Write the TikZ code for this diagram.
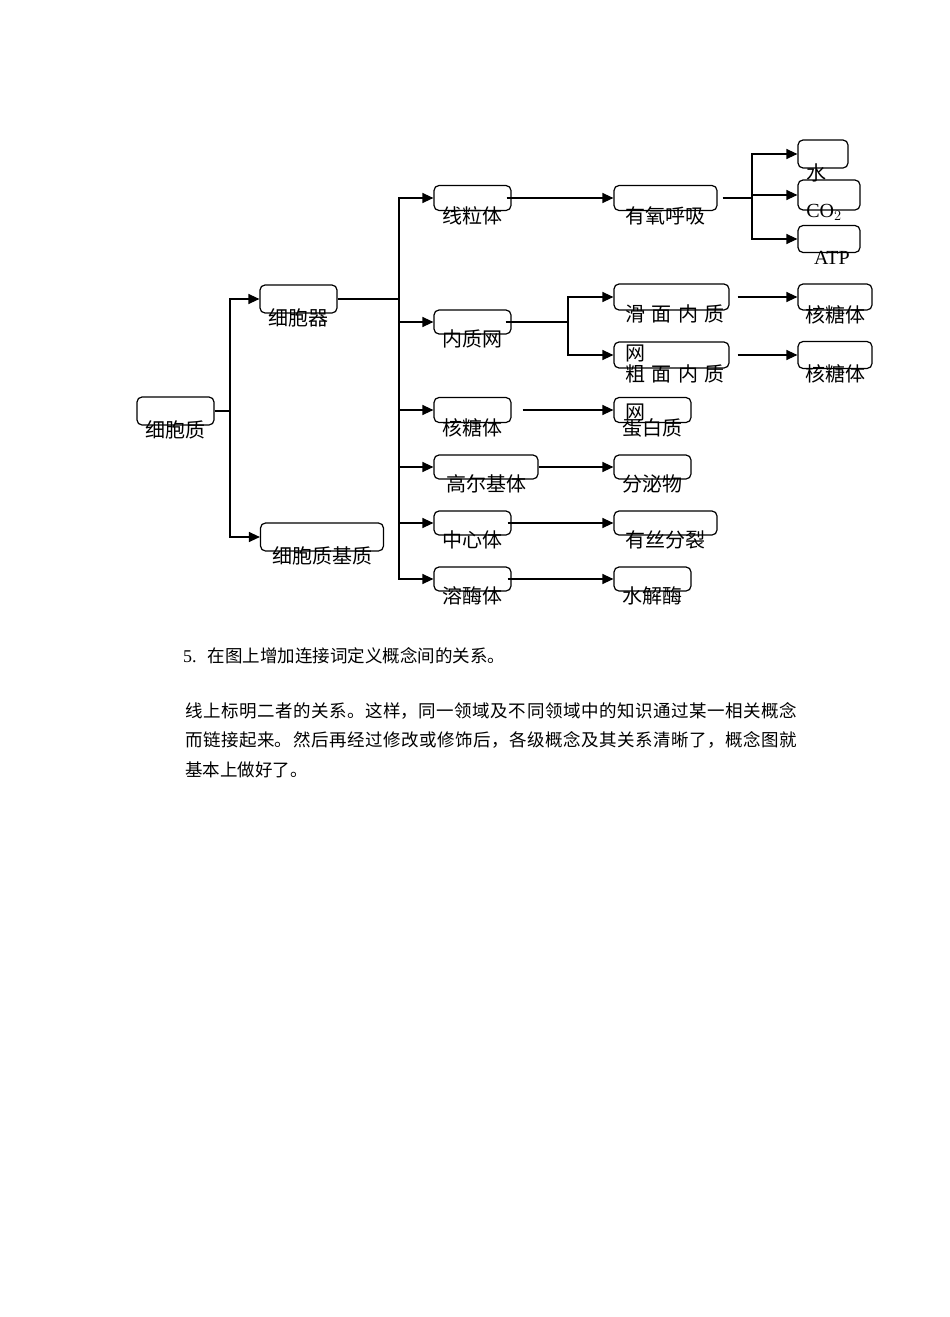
\documentclass[tikz,border=0pt]{standalone}
\usepackage{fontspec}
\setmainfont{Liberation Serif}
\newfontfamily\cjk{Noto Sans CJK SC}
\usetikzlibrary{arrows.meta}
\XeTeXlinebreaklocale "zh"
\XeTeXlinebreakskip=0pt plus 2pt

\tikzset{
  concept/.style={draw, rounded corners=5pt, line width=1.2pt, inner sep=0pt},
  txt/.style={font=\cjk\fontsize{20}{24}\selectfont, inner sep=0pt, anchor=base},
  lat/.style={font=\fontsize{20}{24}\selectfont, inner sep=0pt, anchor=base},
  arr/.style={line width=1.3pt, -{Triangle[length=11pt,width=10pt]}},
  ln/.style={line width=1.3pt},
  body/.style={font=\cjk\fontsize{17.5}{29.5}\selectfont, inner sep=0pt}
}

\begin{document}
\begin{tikzpicture}[x=1pt,y=-1pt]
\fill[white] (0,0) rectangle (950,1317);
\useasboundingbox (0,0) rectangle (950,1317);

% First column
\node[concept, minimum width=77pt, minimum height=28pt] (xbz) at (175.5,411) {};
\node[txt] (xbz-t) at ([yshift=-12pt]xbz.south) {细胞质};

% Second column
\node[concept, minimum width=77pt, minimum height=28pt] (xbq) at (298.5,299) {};
\node[txt] (xbq-t) at ([yshift=-12pt]xbq.south) {细胞器};
\node[concept, minimum width=123pt, minimum height=28pt] (jz) at (322,537) {};
\node[txt] (jz-t) at ([yshift=-12pt]jz.south) {细胞质基质};

% Organelles
\node[concept, minimum width=77pt, minimum height=25pt] (xlt) at (472.5,198) {};
\node[txt] (xlt-t) at ([yshift=-12pt]xlt.south) {线粒体};
\node[concept, minimum width=77pt, minimum height=24pt] (nzw) at (472.5,322) {};
\node[txt] (nzw-t) at ([yshift=-12pt]nzw.south) {内质网};
\node[concept, minimum width=77pt, minimum height=25pt] (htt) at (472.5,410) {};
\node[txt] (htt-t) at ([yshift=-12pt]htt.south) {核糖体};
\node[concept, minimum width=104pt, minimum height=24pt] (gej) at (486,467) {};
\node[txt] (gej-t) at ([yshift=-12pt]gej.south) {高尔基体};
\node[concept, minimum width=77pt, minimum height=24pt] (zxt) at (472.5,523) {};
\node[txt] (zxt-t) at ([yshift=-12pt]zxt.south) {中心体};
\node[concept, minimum width=77pt, minimum height=24pt] (rmt) at (472.5,579) {};
\node[txt] (rmt-t) at ([yshift=-12pt]rmt.south) {溶酶体};

% Third column
\node[concept, minimum width=103pt, minimum height=25pt] (yhx) at (665.5,198) {};
\node[txt] (yhx-t) at ([yshift=-12pt]yhx.south) {有氧呼吸};
\node[concept, minimum width=115pt, minimum height=26pt] (hm) at (671.5,297) {};
\node[txt, anchor=base west] (hm-t) at (625,321) {滑\hspace{6.5pt}面\hspace{6.5pt}内\hspace{6.5pt}质};
\node[txt, anchor=base west] (hm-t2) at (625,360) {网};
\node[concept, minimum width=115pt, minimum height=26pt] (cm) at (671.5,355) {};
\node[txt, anchor=base west] (cm-t) at (625,381) {粗\hspace{6.5pt}面\hspace{6.5pt}内\hspace{6.5pt}质};
\node[txt, anchor=base west] (cm-t2) at (625,419) {网};
\node[concept, minimum width=77pt, minimum height=25pt] (dbz) at (652.5,410) {};
\node[txt] (dbz-t) at ([yshift=-12pt]dbz.south) {蛋白质};
\node[concept, minimum width=77pt, minimum height=24pt] (fmw) at (652.5,467) {};
\node[txt] (fmw-t) at ([yshift=-12pt]fmw.south) {分泌物};
\node[concept, minimum width=103pt, minimum height=24pt] (ysf) at (665.5,523) {};
\node[txt] (ysf-t) at ([yshift=-12pt]ysf.south) {有丝分裂};
\node[concept, minimum width=77pt, minimum height=24pt] (sjm) at (652.5,579) {};
\node[txt] (sjm-t) at ([yshift=-12pt]sjm.south) {水解酶};

% Fourth column
\node[concept, minimum width=50pt, minimum height=28pt] (water) at (823,154) {};
\node[txt] (water-t) at ([xshift=-7pt,yshift=-12pt]water.south) {水};
\node[concept, minimum width=62pt, minimum height=30pt] (co2) at (829,195) {};
\node[lat] (co2-t) at ([xshift=-5pt,yshift=-7pt]co2.south) {CO$_2$};
\node[concept, minimum width=62pt, minimum height=27pt] (atp) at (829,239) {};
\node[lat] (atp-t) at ([xshift=3pt,yshift=-11pt]atp.south) {ATP};
\node[concept, minimum width=74pt, minimum height=26pt] (ht1) at (835,297) {};
\node[txt] (ht1-t) at ([yshift=-12pt]ht1.south) {核糖体};
\node[concept, minimum width=74pt, minimum height=27pt] (ht2) at (835,355) {};
\node[txt] (ht2-t) at ([yshift=-12pt]ht2.south) {核糖体};

% Junctions
\coordinate (j1) at (230,411);
\coordinate (j2) at (399,299);
\coordinate (j3) at (568,322);
\coordinate (j4) at (752,198);

% Connectors
\draw[ln] (xbz.east) -- (j1);
\draw[arr] (j1) |- (xbq.west);
\draw[arr] (j1) |- (jz.west);
\draw[ln] (xbq.east) -- (j2);
\draw[arr] (j2) |- (xlt.west);
\draw[arr] (j2) |- (nzw.west);
\draw[arr] (j2) |- (htt.west);
\draw[arr] (j2) |- (gej.west);
\draw[arr] (j2) |- (zxt.west);
\draw[arr] (j2) |- (rmt.west);

\draw[arr] ([xshift=-5pt]xlt.east) -- (yhx.west);
\draw[ln] ([xshift=-6pt]nzw.east) -- (j3);
\draw[arr] (j3) |- (hm.west);
\draw[arr] (j3) |- (cm.west);
\draw[arr] ([xshift=11pt]htt.east) -- (dbz.west);
\draw[arr] (gej.east) -- (fmw.west);
\draw[arr] ([xshift=-4pt]zxt.east) -- (ysf.west);
\draw[arr] ([xshift=-4pt]rmt.east) -- (sjm.west);

\draw[ln] ([xshift=5pt]yhx.east) -- (j4);
\draw[arr] (j4) |- (water.west);
\draw[arr] (j4) |- (co2.west);
\draw[arr] (j4) |- (atp.west);
\draw[arr] ([xshift=8pt]hm.east) -- (ht1.west);
\draw[arr] ([xshift=8pt]cm.east) -- (ht2.west);

% Text below the map
\node[body, anchor=base west] (step5) at (183,662.5) {{\rmfamily\fontsize{18}{22}\selectfont 5.}\hspace{11pt}在图上增加连接词定义概念间的关系。};
\node[body, anchor=north west, text width=612pt, align=justify] (para) at (185,702) {\noindent 线上标明二者的关系。这样，同一领域及不同领域中的知识通过某一相关概念\linebreak 而链接起来。然后再经过修改或修饰后，各级概念及其关系清晰了，概念图就\linebreak 基本上做好了。};

\end{tikzpicture}
\end{document}
